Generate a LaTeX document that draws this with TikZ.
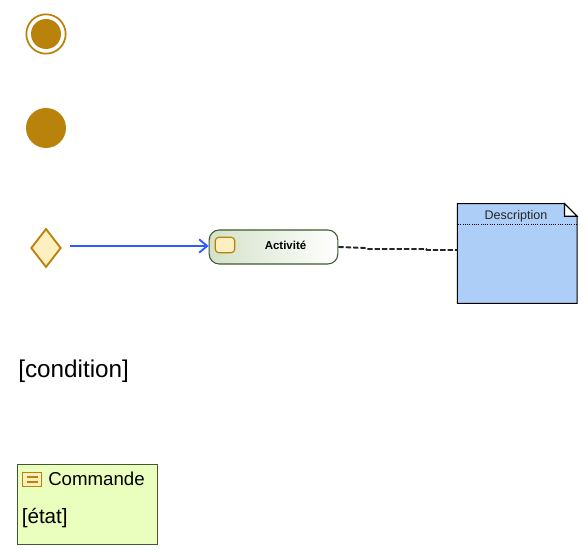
\documentclass[tikz,border=0pt]{standalone}
\usepackage{fontspec}
\setmainfont{Liberation Sans}
\usetikzlibrary{arrows.meta, shapes.geometric, positioning}
\definecolor{ocre}{HTML}{B9830B}
\definecolor{creme}{HTML}{FDEFC0}
\definecolor{vertfonce}{HTML}{42592F}
\definecolor{vertpale}{HTML}{D3E2C8}
\definecolor{jaunevert}{HTML}{EAFFBD}
\definecolor{bleunote}{HTML}{ADCFF7}
\definecolor{bleuflux}{HTML}{2F5DFB}
\tikzset{
    etat/.style={circle,fill=ocre,inner sep=0pt},
    activite/.style={rectangle,rounded corners=7.5pt,draw=vertfonce,line width=.8pt,
        left color=vertpale,right color=white,minimum width=96.5pt,minimum height=25.5pt,inner sep=0pt},
    petitbox/.style={draw=ocre,fill=creme,line width=.9pt,inner sep=0pt}
}
\begin{document}
\begin{tikzpicture}[x=.75pt,y=-.75pt]
    \useasboundingbox (0,0) rectangle (587,555);
    % etats
    \node[etat,minimum size=22.5pt] (final) at (46,34) {};
    \node[circle,draw=ocre,line width=1.3pt,minimum size=29.5pt,inner sep=0pt] (finalring) at (46,34) {};
    \node[etat,minimum size=30pt] (initial) at (46,128) {};
    % decision et activite
    \node[diamond,aspect=.82,petitbox,line width=1.4pt,minimum width=22.6pt,minimum height=29pt] (decision) at (46,248) {};
    \node[activite] (act) at (273.5,247) {};
    \node[petitbox,rounded corners=2.5pt,minimum width=14.5pt,minimum height=11.5pt] (acticon) at (225,245) {};
    \node[font=\fontsize{8.6}{10}\selectfont\bfseries,anchor=base] (actlabel) at (285.5,249.5) {Activité};
    \coordinate (flowstart) at (70,246);
    \draw[bleuflux,line width=1.4pt,-{Straight Barb[length=6pt,width=10pt,line width=1.4pt]}] (flowstart) -- (flowstart -| act.west);
    % note
    \node[rectangle,minimum width=89.5pt,minimum height=74.5pt,inner sep=0pt] (note) at (517.25,253.5) {};
    \draw[fill=bleunote,line width=.8pt] (note.north west) -- ([xshift=-9.5pt]note.north east) -- ([yshift=-9.5pt]note.north east)
        -- (note.south east) -- (note.south west) -- cycle;
    \draw[fill=white,line width=.8pt] ([xshift=-9.5pt]note.north east) -- ([xshift=-9.5pt,yshift=-9.5pt]note.north east) -- ([yshift=-9.5pt]note.north east) -- cycle;
    \draw[densely dotted,line width=.7pt] (458,224.5) -- (576.5,224.5);
    \node[font=\fontsize{9.4}{11}\selectfont,anchor=base,text=black!85] (notelabel) at (516,220) {Description};
    \coordinate (kinka) at (366,248);
    \coordinate (kinkb) at (426,249);
    \draw[dash pattern=on 4pt off 1.5pt,line width=1.4pt,black!85] (act.east) -- (kinka) -- ++(1,1) -- (kinkb) -- ++(1,1) -- (note.west |- 0,250);
    % condition
    \node[font=\fontsize{18.2}{20}\selectfont,anchor=base west,inner sep=0pt] (condition) at (18,378) {[condition]};
    % commande
    \node[rectangle,draw=vertfonce,fill=jaunevert,line width=.8pt,minimum width=105pt,minimum height=60pt,inner sep=0pt] (commande) at (87.5,504.5) {};
    \node[petitbox,minimum width=14pt,minimum height=10pt] (cmdicon) at (32,479.5) {};
    \draw[ocre,line width=1.2pt] (26.5,477) -- (37.5,477) (26.5,482) -- (37.5,482);
    \node[font=\fontsize{14}{16}\selectfont,anchor=base west,inner sep=0pt] (cmdlabel) at (48,485.5) {Commande};
    \node[font=\fontsize{15.5}{16}\selectfont,anchor=base west,inner sep=0pt] (cmdetat) at (21.5,523.5) {[état]};
\end{tikzpicture}
\end{document}
